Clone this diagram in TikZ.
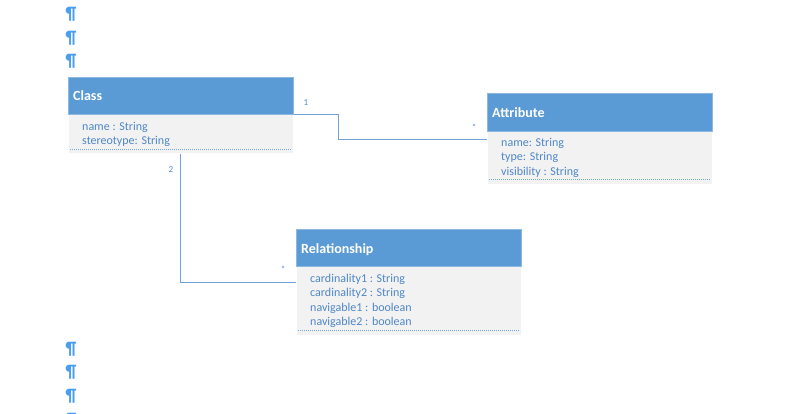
\documentclass[tikz,border=0pt]{standalone}
\usepackage{fontspec}
\setmainfont{Carlito}
\usetikzlibrary{calc}
\definecolor{hdr}{HTML}{5B9BD5}
\definecolor{bodyfill}{HTML}{F2F2F2}
\definecolor{txt}{HTML}{4F87C7}
\definecolor{conn}{HTML}{6FA1D8}
\definecolor{pil}{HTML}{4A9EF0}
\tikzset{
  hdrbox/.style={fill=hdr, draw=hdr!70!white, line width=0.6pt, anchor=north west, minimum height=37pt, inner sep=0pt},
  bodybox/.style={fill=bodyfill, draw=white, line width=0.5pt, anchor=north west, inner sep=0pt},
  title/.style={anchor=base west, text=white, font=\fontsize{14}{16}\selectfont\bfseries, inner sep=0pt},
  attr/.style={anchor=base west, text=txt, font=\fontsize{12}{14.5}\selectfont, inner sep=0pt},
  sep/.style={draw=hdr!85!white, dash pattern=on 1pt off 1pt, line width=0.9pt},
  conline/.style={draw=conn, line width=1.1pt},
  mult/.style={text=txt, font=\fontsize{9}{10}\selectfont, inner sep=0pt},
  pilcrow/.style={text=pil, font=\fontsize{18}{18}\selectfont\bfseries, inner sep=0pt}
}
\begin{document}
\begin{tikzpicture}[x=1pt,y=-1pt]
\useasboundingbox (0,0) rectangle (801,413);
\clip (0,0) rectangle (801,413);
\fill[white] (0,0) rectangle (801,413);

% pilcrows
\node[pilcrow] (p1) at (71,14) {¶};
\node[pilcrow] (p2) at (71,38) {¶};
\node[pilcrow] (p3) at (71,61) {¶};
\node[pilcrow] (p4) at (71,349) {¶};
\node[pilcrow] (p5) at (71,372) {¶};
\node[pilcrow] (p6) at (71,396) {¶};
\node[pilcrow] (p7) at (71,420) {¶};
\node[pilcrow] (p8) at (678,-7) {¶};

% Class
\node[bodybox, minimum width=225pt, minimum height=39pt] (classB) at (68,114) {};
\node[hdrbox, minimum width=225pt] (classH) at (68,77) {};
\node[title] (classT) at (73,100) {Class};
\node[attr] (classA1) at (82,130) {name : String};
\node[attr] (classA2) at (82,144.5) {stereotype: String};
\draw[sep] ($(classB.south west)+(2,-4)$) -- ($(classB.south east)+(-2,-4)$);

% Attribute
\node[bodybox, minimum width=225pt, minimum height=53pt] (attrB) at (487,131) {};
\node[hdrbox, minimum width=225pt, minimum height=38pt] (attrH) at (487,93) {};
\node[title] (attrT) at (492,117) {Attribute};
\node[attr] (attrA1) at (501,146) {name: String};
\node[attr] (attrA2) at (501,160.5) {type: String};
\node[attr] (attrA3) at (501,175) {visibility : String};
\draw[sep] ($(attrB.south west)+(2,-5)$) -- ($(attrB.south east)+(-2,-5)$);

% Relationship
\node[bodybox, minimum width=225pt, minimum height=69pt] (relB) at (296,266) {};
\node[hdrbox, minimum width=225pt] (relH) at (296,229) {};
\node[title] (relT) at (301,253) {Relationship};
\node[attr] (relA1) at (310,282) {cardinality1 : String};
\node[attr] (relA2) at (310,296.5) {cardinality2 : String};
\node[attr] (relA3) at (310,311) {navigable1 : boolean};
\node[attr] (relA4) at (310,325.5) {navigable2 : boolean};
\draw[sep] ($(relB.south west)+(2,-5)$) -- ($(relB.south east)+(-2,-5)$);

% connectors
\coordinate (c1end) at ($(attrH.south west)+(0,8)$);
\coordinate (c2end) at ($(relH.south west)+(0,16)$);
\draw[conline] (classH.south east) -- ++(45,0) |- (c1end);
\draw[conline] (classB.south) |- (c2end);

% multiplicities
\node[mult] (m1) at (306,103) {1};
\node[mult] (m2) at (474,127) {*};
\node[mult] (m3) at (171,170) {2};
\node[mult] (m4) at (283,269) {*};
\end{tikzpicture}
\end{document}
